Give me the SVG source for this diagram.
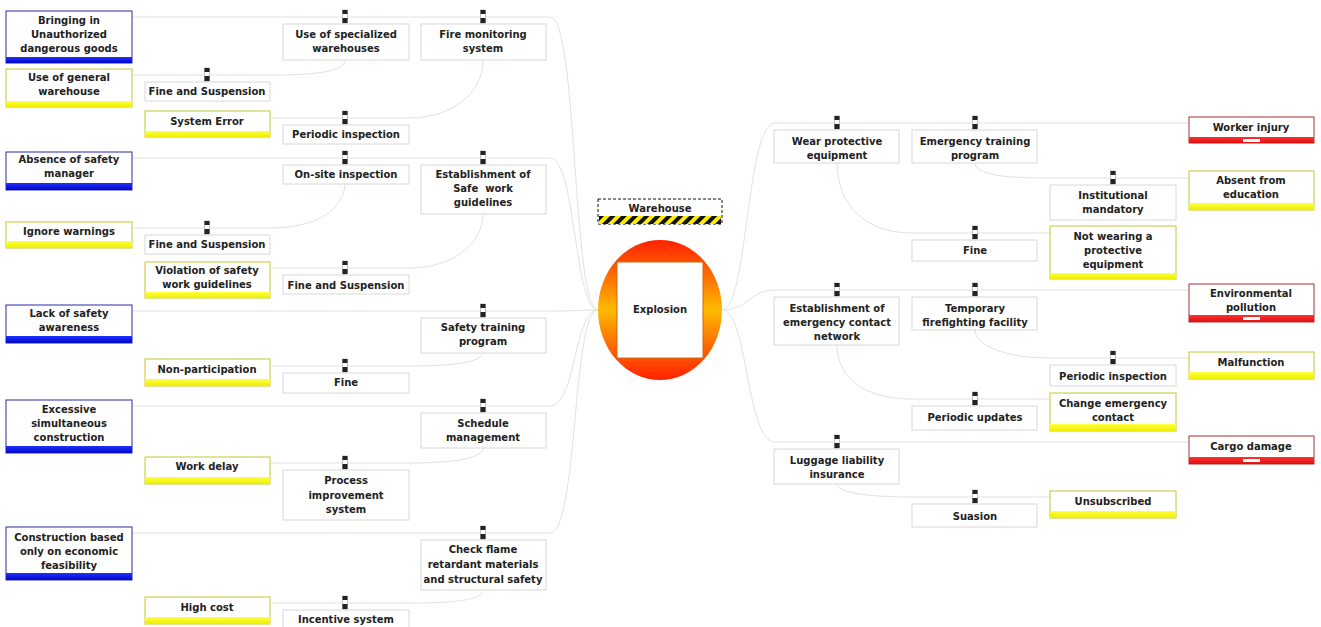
<svg xmlns="http://www.w3.org/2000/svg" xmlns:xlink="http://www.w3.org/1999/xlink" width="1321" height="627" viewBox="0 0 1321 627">
<style>
.t{font-family:"DejaVu Sans","Liberation Sans",sans-serif;font-weight:bold;font-size:10px;fill:#222;text-anchor:middle;white-space:pre}
.b{fill:#fff;stroke:#d8d8d8;stroke-width:1}
.th{fill:#fff;stroke:#2a2aa8;stroke-width:1}
.ye{fill:#fff;stroke:#c8c830;stroke-width:1}
.rd{fill:#fff;stroke:#a83030;stroke-width:1}
.ln{fill:none;stroke:#e2e2e2;stroke-width:1}
</style>
<defs>
<linearGradient id="gBlue" x1="0" y1="0" x2="0" y2="1"><stop offset="0" stop-color="#2030ff"/><stop offset="1" stop-color="#0008c8"/></linearGradient>
<linearGradient id="gYel" x1="0" y1="0" x2="0" y2="1"><stop offset="0" stop-color="#ffff40"/><stop offset="1" stop-color="#eeee00"/></linearGradient>
<linearGradient id="gRed" x1="0" y1="0" x2="0" y2="1"><stop offset="0" stop-color="#ff3030"/><stop offset="1" stop-color="#dd1010"/></linearGradient>
<linearGradient id="gExp" x1="0" y1="0" x2="0" y2="1">
<stop offset="0" stop-color="#ff2200"/><stop offset="0.3" stop-color="#ff7a00"/><stop offset="0.5" stop-color="#ffbb00"/><stop offset="0.7" stop-color="#ff7a00"/><stop offset="1" stop-color="#ff2200"/></linearGradient>
<pattern id="haz" patternUnits="userSpaceOnUse" width="8" height="8" patternTransform="rotate(45)"><rect width="8" height="8" fill="#ffee00"/><rect width="4" height="8" fill="#111"/></pattern>
<g id="mk"><rect x="-2.5" y="-7" width="5" height="13" fill="#fff" stroke="#888" stroke-width="0.5"/><rect x="-2.5" y="-7" width="5" height="4" fill="#222"/><rect x="-2.5" y="1" width="5" height="5" fill="#222"/></g>
</defs>
<rect width="1321" height="627" fill="#fff"/>

<g id="connectors">
<path class="ln" d="M132,17 H550 C578,17 572,310 598,310"/>
<path class="ln" d="M132,158 H550 C576,158 574,310 598,310"/>
<path class="ln" d="M132,311 H550 C575,311 580,310 598,310"/>
<path class="ln" d="M132,406 H550 C576,406 574,310 598,310"/>
<path class="ln" d="M132,533 H550 C578,533 572,310 598,310"/>
<path class="ln" d="M132,75 H270 C315,75 345,72 345,60"/>
<path class="ln" d="M270,118 H409 C450,118 483,95 483,60"/>
<path class="ln" d="M132,228 H270 C315,228 345,210 345,183"/>
<path class="ln" d="M270,268 H409 C452,268 483,245 483,213"/>
<path class="ln" d="M270,366 H409 C455,366 483,362 483,352"/>
<path class="ln" d="M270,463 H409 C455,463 483,458 483,448"/>
<path class="ln" d="M270,603 H409 C455,603 483,600 483,590"/>
<path class="ln" d="M722,310 C748,310 746,123 775,123 H1189"/>
<path class="ln" d="M722,310 C748,310 750,290 775,290 H1189"/>
<path class="ln" d="M722,310 C748,310 746,442 775,442 H1189"/>
<path class="ln" d="M1189,178 H1050 C1005,178 975,175 975,163"/>
<path class="ln" d="M1050,233 H912 C865,233 837,205 837,162"/>
<path class="ln" d="M1189,358 H1050 C1005,358 975,345 975,330"/>
<path class="ln" d="M1050,399 H912 C865,399 837,378 837,345"/>
<path class="ln" d="M1050,497 H912 C865,497 837,492 837,484"/>
</g>

<g id="center">
<g id="hazard">
<rect x="598" y="199" width="124" height="25" fill="#fff" stroke="#111" stroke-dasharray="3 2"/>
<rect x="599" y="216" width="122" height="8" fill="url(#haz)"/>
<text class="t" x="660" y="212">Warehouse</text>
</g>
<g id="top-event">
<ellipse cx="660" cy="310" rx="62" ry="70" fill="url(#gExp)"/>
<rect x="617" y="262" width="86" height="96" fill="#fff" stroke="#cc6a10" stroke-width="1"/>
<text class="t" x="660" y="313">Explosion</text>
</g>
</g>

<g id="threats">
<g id="th1"><rect class="th" x="6" y="11" width="126" height="52"/><rect x="6" y="57" width="126" height="6" fill="url(#gBlue)"/><text class="t" x="69" y="24">Bringing in</text><text class="t" x="69" y="38">Unauthorized</text><text class="t" x="69" y="52">dangerous goods</text></g>
<g id="th2"><rect class="th" x="6" y="152" width="126" height="38"/><rect x="6" y="183" width="126" height="7" fill="url(#gBlue)"/><text class="t" x="69" y="163">Absence of safety</text><text class="t" x="69" y="177">manager</text></g>
<g id="th3"><rect class="th" x="6" y="305" width="126" height="38"/><rect x="6" y="336" width="126" height="7" fill="url(#gBlue)"/><text class="t" x="69" y="317">Lack of safety</text><text class="t" x="69" y="331">awareness</text></g>
<g id="th4"><rect class="th" x="6" y="400" width="126" height="53"/><rect x="6" y="446" width="126" height="7" fill="url(#gBlue)"/><text class="t" x="69" y="413">Excessive</text><text class="t" x="69" y="427">simultaneous</text><text class="t" x="69" y="441">construction</text></g>
<g id="th5"><rect class="th" x="6" y="527" width="126" height="53"/><rect x="6" y="573" width="126" height="7" fill="url(#gBlue)"/><text class="t" x="69" y="541">Construction based</text><text class="t" x="69" y="555">only on economic</text><text class="t" x="69" y="569">feasibility</text></g>
</g>

<g id="escalation-factors">
<g id="ef1"><rect class="ye" x="6" y="69" width="126" height="38"/><rect x="6" y="101" width="126" height="6" fill="url(#gYel)"/><text class="t" x="69" y="81">Use of general</text><text class="t" x="69" y="95">warehouse</text></g>
<g id="ef2"><rect class="ye" x="145" y="111" width="125" height="26"/><rect x="145" y="131" width="125" height="6" fill="url(#gYel)"/><text class="t" x="207" y="125">System Error</text></g>
<g id="ef3"><rect class="ye" x="6" y="222" width="126" height="26"/><rect x="6" y="241" width="126" height="7" fill="url(#gYel)"/><text class="t" x="69" y="235">Ignore warnings</text></g>
<g id="ef4"><rect class="ye" x="145" y="262" width="125" height="36"/><rect x="145" y="292" width="125" height="6" fill="url(#gYel)"/><text class="t" x="207" y="274">Violation of safety</text><text class="t" x="207" y="288">work guidelines</text></g>
<g id="ef5"><rect class="ye" x="145" y="359" width="125" height="27"/><rect x="145" y="379" width="125" height="7" fill="url(#gYel)"/><text class="t" x="207" y="373">Non-participation</text></g>
<g id="ef6"><rect class="ye" x="145" y="457" width="125" height="27"/><rect x="145" y="477" width="125" height="7" fill="url(#gYel)"/><text class="t" x="207" y="470">Work delay</text></g>
<g id="ef7"><rect class="ye" x="145" y="597" width="125" height="27"/><rect x="145" y="617" width="125" height="7" fill="url(#gYel)"/><text class="t" x="207" y="611">High cost</text></g>
<g id="ef8"><rect class="ye" x="1189" y="171" width="125" height="39"/><rect x="1189" y="203" width="125" height="7" fill="url(#gYel)"/><text class="t" x="1251" y="184">Absent from</text><text class="t" x="1251" y="198">education</text></g>
<g id="ef9"><rect class="ye" x="1050" y="226" width="126" height="53"/><rect x="1050" y="273" width="126" height="6" fill="url(#gYel)"/><text class="t" x="1113" y="240">Not wearing a</text><text class="t" x="1113" y="254">protective</text><text class="t" x="1113" y="268">equipment</text></g>
<g id="ef10"><rect class="ye" x="1189" y="352" width="125" height="27"/><rect x="1189" y="372" width="125" height="7" fill="url(#gYel)"/><text class="t" x="1251" y="366">Malfunction</text></g>
<g id="ef11"><rect class="ye" x="1050" y="393" width="126" height="38"/><rect x="1050" y="424" width="126" height="7" fill="url(#gYel)"/><text class="t" x="1113" y="407">Change emergency</text><text class="t" x="1113" y="421">contact</text></g>
<g id="ef12"><rect class="ye" x="1050" y="491" width="126" height="27"/><rect x="1050" y="511" width="126" height="7" fill="url(#gYel)"/><text class="t" x="1113" y="505">Unsubscribed</text></g>
</g>

<g id="consequences">
<g id="c1"><rect class="rd" x="1189" y="117" width="125" height="26"/><rect x="1189" y="137" width="125" height="6" fill="url(#gRed)"/><rect x="1243" y="139" width="17" height="3" fill="#fff"/><text class="t" x="1251" y="131">Worker injury</text></g>
<g id="c2"><rect class="rd" x="1189" y="284" width="125" height="38"/><rect x="1189" y="315" width="125" height="7" fill="url(#gRed)"/><rect x="1243" y="317" width="17" height="3" fill="#fff"/><text class="t" x="1251" y="297">Environmental</text><text class="t" x="1251" y="311">pollution</text></g>
<g id="c3"><rect class="rd" x="1189" y="436" width="125" height="28"/><rect x="1189" y="457" width="125" height="7" fill="url(#gRed)"/><rect x="1243" y="459" width="17" height="3" fill="#fff"/><text class="t" x="1251" y="450">Cargo damage</text></g>
</g>

<g id="barriers">
<g id="b1"><rect class="b" x="283" y="24" width="126" height="36"/><use xlink:href="#mk" x="345" y="17"/><text class="t" x="346" y="38">Use of specialized</text><text class="t" x="346" y="52">warehouses</text></g>
<g id="b2"><rect class="b" x="421" y="24" width="125" height="36"/><use xlink:href="#mk" x="483" y="17"/><text class="t" x="483" y="38">Fire monitoring</text><text class="t" x="483" y="52">system</text></g>
<g id="b3"><rect class="b" x="145" y="82" width="125" height="19"/><use xlink:href="#mk" x="207" y="75"/><text class="t" x="207" y="95">Fine and Suspension</text></g>
<g id="b4"><rect class="b" x="283" y="125" width="126" height="19"/><use xlink:href="#mk" x="345" y="118"/><text class="t" x="346" y="138">Periodic inspection</text></g>
<g id="b5"><rect class="b" x="283" y="165" width="126" height="19"/><use xlink:href="#mk" x="345" y="158"/><text class="t" x="346" y="178">On-site inspection</text></g>
<g id="b6"><rect class="b" x="421" y="165" width="125" height="49"/><use xlink:href="#mk" x="483" y="158"/><text class="t" x="483" y="178">Establishment of</text><text class="t" x="483" y="192">Safe  work</text><text class="t" x="483" y="206">guidelines</text></g>
<g id="b7"><rect class="b" x="145" y="235" width="125" height="19"/><use xlink:href="#mk" x="207" y="228"/><text class="t" x="207" y="248">Fine and Suspension</text></g>
<g id="b8"><rect class="b" x="283" y="275" width="126" height="19"/><use xlink:href="#mk" x="345" y="268"/><text class="t" x="346" y="289">Fine and Suspension</text></g>
<g id="b9"><rect class="b" x="421" y="318" width="125" height="35"/><use xlink:href="#mk" x="483" y="311"/><text class="t" x="483" y="331">Safety training</text><text class="t" x="483" y="345">program</text></g>
<g id="b10"><rect class="b" x="283" y="373" width="126" height="20"/><use xlink:href="#mk" x="345" y="366"/><text class="t" x="346" y="386">Fine</text></g>
<g id="b11"><rect class="b" x="421" y="413" width="125" height="35"/><use xlink:href="#mk" x="483" y="406"/><text class="t" x="483" y="427">Schedule</text><text class="t" x="483" y="441">management</text></g>
<g id="b12"><rect class="b" x="283" y="470" width="126" height="50"/><use xlink:href="#mk" x="345" y="463"/><text class="t" x="346" y="484">Process</text><text class="t" x="346" y="499">improvement</text><text class="t" x="346" y="513">system</text></g>
<g id="b13"><rect class="b" x="421" y="540" width="125" height="50"/><use xlink:href="#mk" x="483" y="533"/><text class="t" x="483" y="553">Check flame</text><text class="t" x="483" y="568">retardant materials</text><text class="t" x="483" y="583">and structural safety</text></g>
<g id="b14"><rect class="b" x="283" y="610" width="126" height="20"/><use xlink:href="#mk" x="345" y="603"/><text class="t" x="346" y="623">Incentive system</text></g>
<g id="b15"><rect class="b" x="774" y="130" width="125" height="33"/><use xlink:href="#mk" x="837" y="123"/><text class="t" x="837" y="145">Wear protective</text><text class="t" x="837" y="159">equipment</text></g>
<g id="b16"><rect class="b" x="912" y="130" width="125" height="33"/><use xlink:href="#mk" x="975" y="123"/><text class="t" x="975" y="145">Emergency training</text><text class="t" x="975" y="159">program</text></g>
<g id="b17"><rect class="b" x="1050" y="185" width="126" height="35"/><use xlink:href="#mk" x="1113" y="178"/><text class="t" x="1113" y="199">Institutional</text><text class="t" x="1113" y="213">mandatory</text></g>
<g id="b18"><rect class="b" x="912" y="240" width="125" height="21"/><use xlink:href="#mk" x="975" y="233"/><text class="t" x="975" y="254">Fine</text></g>
<g id="b19"><rect class="b" x="774" y="297" width="125" height="48"/><use xlink:href="#mk" x="837" y="290"/><text class="t" x="837" y="312">Establishment of</text><text class="t" x="837" y="326">emergency contact</text><text class="t" x="837" y="340">network</text></g>
<g id="b20"><rect class="b" x="912" y="297" width="125" height="33"/><use xlink:href="#mk" x="975" y="290"/><text class="t" x="975" y="312">Temporary</text><text class="t" x="975" y="326">firefighting facility</text></g>
<g id="b21"><rect class="b" x="1050" y="365" width="126" height="21"/><use xlink:href="#mk" x="1113" y="358"/><text class="t" x="1113" y="380">Periodic inspection</text></g>
<g id="b22"><rect class="b" x="912" y="406" width="125" height="24"/><use xlink:href="#mk" x="975" y="399"/><text class="t" x="975" y="421">Periodic updates</text></g>
<g id="b23"><rect class="b" x="774" y="449" width="125" height="35"/><use xlink:href="#mk" x="837" y="442"/><text class="t" x="837" y="464">Luggage liability</text><text class="t" x="837" y="478">insurance</text></g>
<g id="b24"><rect class="b" x="912" y="504" width="125" height="23"/><use xlink:href="#mk" x="975" y="497"/><text class="t" x="975" y="520">Suasion</text></g>
</g>
</svg>
